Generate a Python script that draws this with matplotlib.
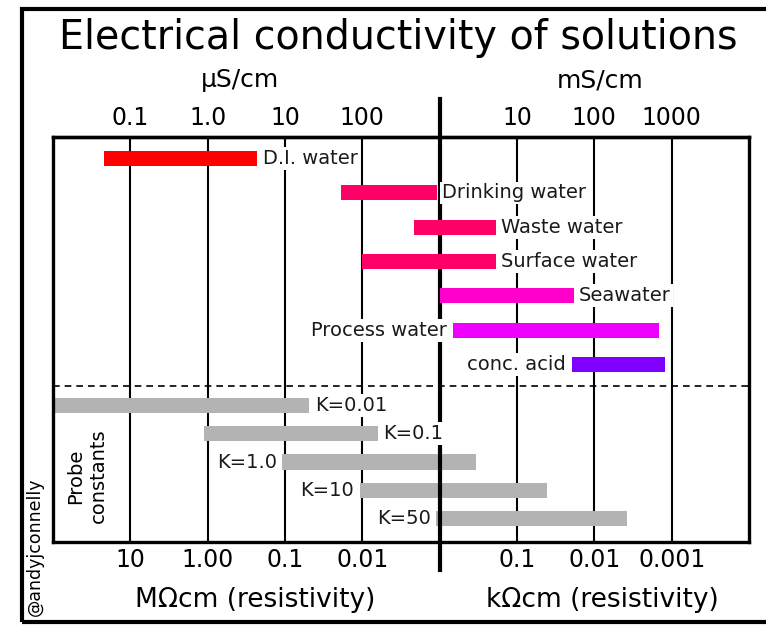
import numpy as np
import matplotlib
matplotlib.use('Agg')
import matplotlib.pyplot as plt
from matplotlib.patches import Rectangle
from matplotlib.ticker import NullLocator

# conductivity ranges in uS/cm
solutions = ['D.I. water', 'Drinking water', 'Waste water', 'Surface water',
             'Seawater', 'Process water', 'conc. acid']
sol_low = [0.045, 53, 470, 100, 1020, 1470, 51000]
sol_high = [4.4, 920, 5300, 5300, 54000, 680000, 830000]
sol_colors = ['#ff0000', '#ff0066', '#ff0066', '#ff0066', '#ff00cc', '#ee00ff', '#7f00ff']
sol_side = ['right', 'right', 'right', 'right', 'right', 'left', 'left']

probes = ['K=0.01', 'K=0.1', 'K=1.0', 'K=10', 'K=50']
probe_low = [0.01, 0.9, 9.2, 92, 900]
probe_high = [20.5, 158, 2970, 24300, 267000]
probe_side = ['right', 'right', 'left', 'left', 'left']

ticks = [0.1, 1, 10, 100, 1e4, 1e5, 1e6]
cond_labels = ['0.1', '1.0', '10', '100', '10', '100', '1000']
resist_labels = ['10', '1.00', '0.1', '0.01', '0.1', '0.01', '0.001']

sol_y = np.arange(len(solutions))
probe_y = 7.2 + 0.82 * np.arange(len(probes))
bar_h = 0.44

fig = plt.figure(figsize=(7.66, 6.25), dpi=100)
ax = fig.add_axes([0.0692, 0.1328, 0.9086, 0.648])

ax.set_xscale('log')
ax.set_xlim(0.01, 1e7)
ax.set_ylim(11.17, -0.63)
ax.set_yticks([])
ax.set_xticks(ticks)
ax.set_xticklabels(resist_labels, fontsize=17)
ax.xaxis.set_minor_locator(NullLocator())
ax.tick_params(axis='x', length=0, pad=4)
ax.grid(axis='x', color='black', lw=1.5)
ax.set_axisbelow(True)
for s in ax.spines.values():
    s.set_linewidth(2.4)

sec = ax.secondary_xaxis('top')
sec.set_xticks(ticks)
sec.set_xticklabels(cond_labels, fontsize=17)
sec.xaxis.set_minor_locator(NullLocator())
sec.tick_params(axis='x', length=0, pad=5)
sec.spines['top'].set_linewidth(2.4)


def label_bar(name, lo, hi, y, side):
    if side == 'right':
        ax.annotate(name, xy=(hi, y), xytext=(4, 0), textcoords='offset points',
                    ha='left', va='center', fontsize=14, color='#1a1a1a', zorder=5,
                    bbox=dict(boxstyle='square,pad=0.1', fc='white', ec='none'))
    else:
        ax.annotate(name, xy=(lo, y), xytext=(-4, 0), textcoords='offset points',
                    ha='right', va='center', fontsize=14, color='#1a1a1a', zorder=5,
                    bbox=dict(boxstyle='square,pad=0.1', fc='white', ec='none'))


# probe constants (grey, under the 1 mS/cm line)
ax.barh(probe_y, np.array(probe_high) - np.array(probe_low), left=probe_low,
        height=bar_h, color='#b3b3b3', zorder=1)
for name, lo, hi, y, side in zip(probes, probe_low, probe_high, probe_y, probe_side):
    label_bar(name, lo, hi, y, side)

# uS/cm | mS/cm divider
ax.axvline(1000, ymin=-0.069, ymax=1.094, color='black', lw=3, clip_on=False, zorder=2)

# solutions
ax.barh(sol_y, np.array(sol_high) - np.array(sol_low), left=sol_low,
        height=bar_h, color=sol_colors, zorder=3)
for name, lo, hi, y, side in zip(solutions, sol_low, sol_high, sol_y, sol_side):
    label_bar(name, lo, hi, y, side)

ax.axhline(6.63, color='black', lw=1.2, ls=(0, (4, 3)), zorder=2)

ax.text(0.049, 0.163, 'Probe\nconstants', transform=ax.transAxes, rotation=90,
        ha='center', va='center', fontsize=14, multialignment='center')

fig.text(0.52, 0.939, 'Electrical conductivity of solutions', ha='center', va='center', fontsize=28.5)
fig.text(0.313, 0.872, 'µS/cm', ha='center', va='center', fontsize=18)
fig.text(0.783, 0.872, 'mS/cm', ha='center', va='center', fontsize=18)
fig.text(0.333, 0.04, 'MΩcm (resistivity)', ha='center', va='center', fontsize=19)
fig.text(0.787, 0.04, 'kΩcm (resistivity)', ha='center', va='center', fontsize=19)
fig.text(0.046, 0.125, '@andyjconnelly', rotation=90, ha='center', va='center', fontsize=12.5)

fig.patches.append(Rectangle((0.0287, 0.005), 1.1, 0.98, transform=fig.transFigure,
                             fill=False, lw=3, ec='black', clip_on=False))

plt.savefig('out.png', dpi=100)
